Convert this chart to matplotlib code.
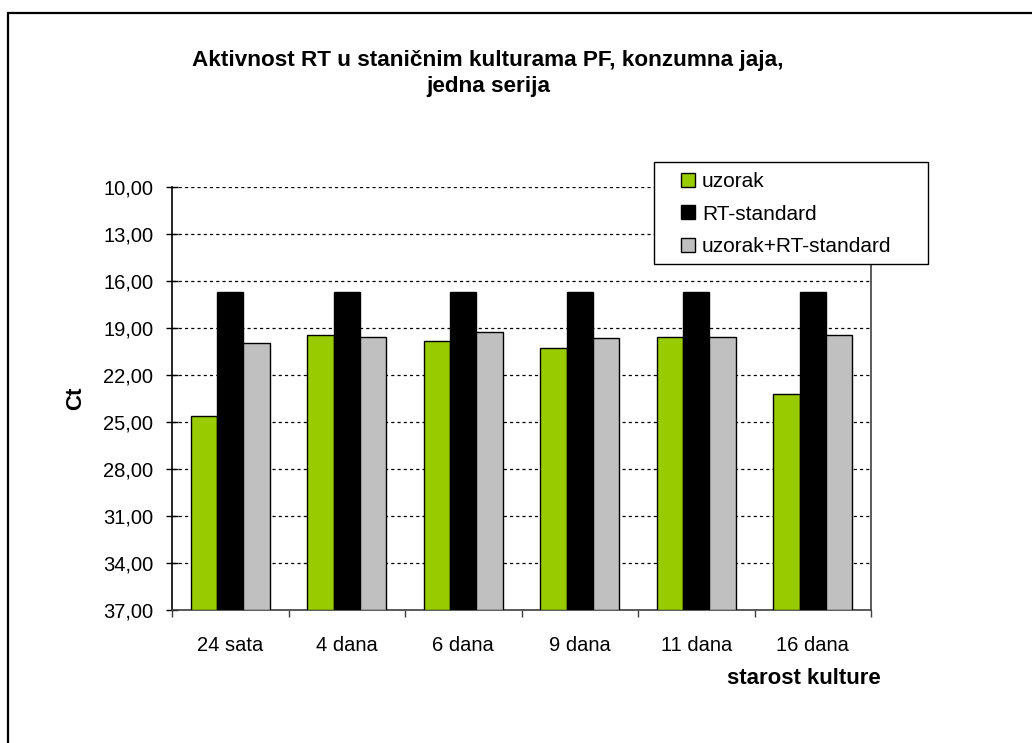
import numpy as np
import matplotlib
matplotlib.use('Agg')
from matplotlib import pyplot as plt
from matplotlib import font_manager
from matplotlib.patches import Rectangle
from matplotlib.ticker import FuncFormatter

plt.rcParams['font.family'] = ['Liberation Sans', 'DejaVu Sans']

## Podaci
kategorije = ['24 sata', '4 dana', '6 dana', '9 dana', '11 dana', '16 dana']
uzorak = [24.60, 19.45, 19.80, 20.25, 19.55, 23.20]
rt_standard = [16.68, 16.68, 16.68, 16.68, 16.68, 16.68]
uzorak_rt = [19.97, 19.55, 19.28, 19.62, 19.55, 19.45]
serije = ['uzorak', 'RT-standard', 'uzorak+RT-standard']
boje = ['#99CC00', '#000000', '#C0C0C0']
y_ticks = [10, 13, 16, 19, 22, 25, 28, 31, 34, 37]

W, H = 1032, 743
fig = plt.figure(figsize=(W / 100, H / 100), dpi=100)
ax = fig.add_axes([172 / W, 1 - 610 / H, (871 - 172) / W, (610 - 187) / H])

x = np.arange(len(kategorije))
sirina = 0.225
dno = 37
for i, (vals, boja, ime) in enumerate(zip([uzorak, rt_standard, uzorak_rt], boje, serije)):
    v = np.array(vals)
    ax.bar(x + (i - 1) * sirina, v - dno, bottom=dno, width=sirina,
           color=boja, edgecolor='black', linewidth=1, label=ime, zorder=3)

# os y je obrnuta (Ct)
ax.set_ylim(37, 10)
ax.set_xlim(-0.5, len(kategorije) - 0.5)
ax.set_yticks(y_ticks)
ax.yaxis.set_major_formatter(FuncFormatter(lambda v, p: f'{v:.2f}'.replace('.', ',')))
ax.yaxis.grid(True, color='black', linestyle=(0, (2.5, 2.5)), linewidth=0.9, zorder=0)
ax.tick_params(axis='y', direction='inout', length=9, width=1, labelsize=14.5, pad=9)

ax.set_xticks(x)
ax.set_xticklabels(kategorije)
ax.set_xticks(np.arange(-0.5, len(kategorije)), minor=True)
ax.tick_params(axis='x', which='major', length=0, labelsize=14.5, pad=19)
ax.tick_params(axis='x', which='minor', direction='out', length=5, width=1, color='#404040')

ax.spines['top'].set_visible(False)
ax.spines['right'].set_color('#404040')
ax.spines['bottom'].set_color('#404040')
for s in ['left', 'right', 'bottom']:
    ax.spines[s].set_linewidth(1.2)

# naslov - uzi font ako postoji
imena = {f.name for f in font_manager.fontManager.ttflist}
if 'Liberation Sans Narrow' in imena:
    naslov_font, naslov_vel = ['Liberation Sans Narrow', 'Liberation Sans'], 19.5
else:
    naslov_font, naslov_vel = ['Liberation Sans', 'DejaVu Sans'], 16.2
fig.text(488 / W, 1 - 66 / H, 'Aktivnost RT u staničnim kulturama PF, konzumna jaja,',
         ha='center', va='baseline', fontsize=naslov_vel, fontweight='bold', family=naslov_font)
fig.text(488 / W, 1 - 92 / H, 'jedna serija',
         ha='center', va='baseline', fontsize=naslov_vel, fontweight='bold', family=naslov_font)

fig.text(76 / W, 1 - 398 / H, 'Ct', rotation=90, ha='center', va='center',
         fontsize=16, fontweight='bold')
fig.text(804 / W, 1 - 679 / H, 'starost kulture', ha='center', va='center',
         fontsize=16, fontweight='bold')

# legenda s okvirom
ax.add_patch(Rectangle((654 / W, 1 - 264 / H), (928 - 654) / W, (264 - 162) / H,
                       transform=fig.transFigure, clip_on=False, facecolor='white',
                       edgecolor='black', linewidth=1, zorder=9))
leg = ax.legend(loc='upper left', bbox_to_anchor=(681 / W, 1 - 172 / H),
                bbox_transform=fig.transFigure, fontsize=15, frameon=False,
                handlelength=0.65, handleheight=0.65, handletextpad=0.35,
                labelspacing=0.66, borderpad=0, borderaxespad=0)
for h in leg.legend_handles:
    h.set_linewidth(1)
leg.set_zorder(10)

# okvir
fig.patches.append(Rectangle((8 / W, -0.1), 1.2, 1 - 13 / H + 0.1,
                             transform=fig.transFigure, fill=False,
                             edgecolor='black', linewidth=1.6))

fig.savefig('out.png', dpi=100)
